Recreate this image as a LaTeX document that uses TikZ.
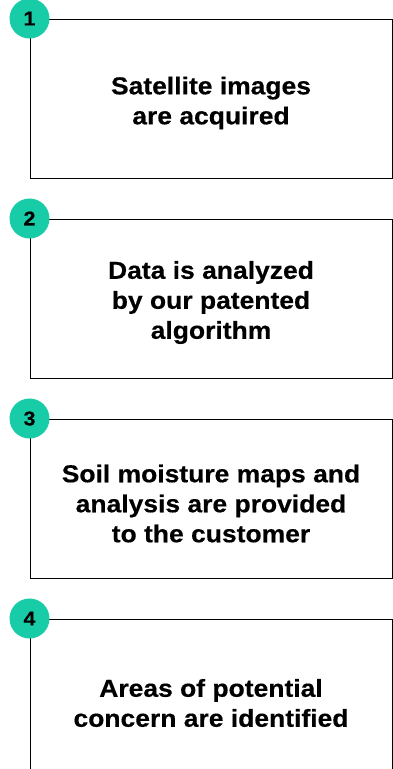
\documentclass[tikz,border=0pt]{standalone}
\usepackage{fontspec}
\setmainfont{Liberation Sans}[BoldFeatures={FakeStretch=1.08,FakeBold=0.4}]
\definecolor{teal1}{HTML}{17CCA6}
\begin{document}
\begin{tikzpicture}[x=1pt,y=-1pt,
  stepbox/.style={draw=black,line width=1pt,minimum width=362pt,minimum height=159pt,inner sep=0pt},
  badge/.style={circle,fill=teal1,minimum size=40pt,inner sep=0pt,font=\bfseries\fontsize{20}{20}\selectfont},
  label/.style={align=center,font=\bfseries\fontsize{24.5}{30}\selectfont,inner sep=0pt}]
\useasboundingbox (0,0) rectangle (393,769);
\clip (0,0) rectangle (393,769);
\node[stepbox] (b1) at (211,98.5) {};
\node[stepbox] (b2) at (211,298.5) {};
\node[stepbox] (b3) at (211,498.5) {};
\node[stepbox] (b4) at (211,698.5) {};
\node[badge] (c1) at (b1.north west) {1};
\node[badge] (c2) at (b2.north west) {2};
\node[badge] (c3) at (b3.north west) {3};
\node[badge] (c4) at (b4.north west) {4};
\node[label] (t1) at (211,103) {Satellite images\\are acquired};
\node[label] (t2) at (211,302.5) {Data is analyzed\\by our patented\\algorithm};
\node[label] (t3) at (211,503.5) {Soil moisture maps and\\analysis are provided\\to the customer};
\node[label] (t4) at (211,703) {Areas of potential\\concern are identified};
\end{tikzpicture}
\end{document}
